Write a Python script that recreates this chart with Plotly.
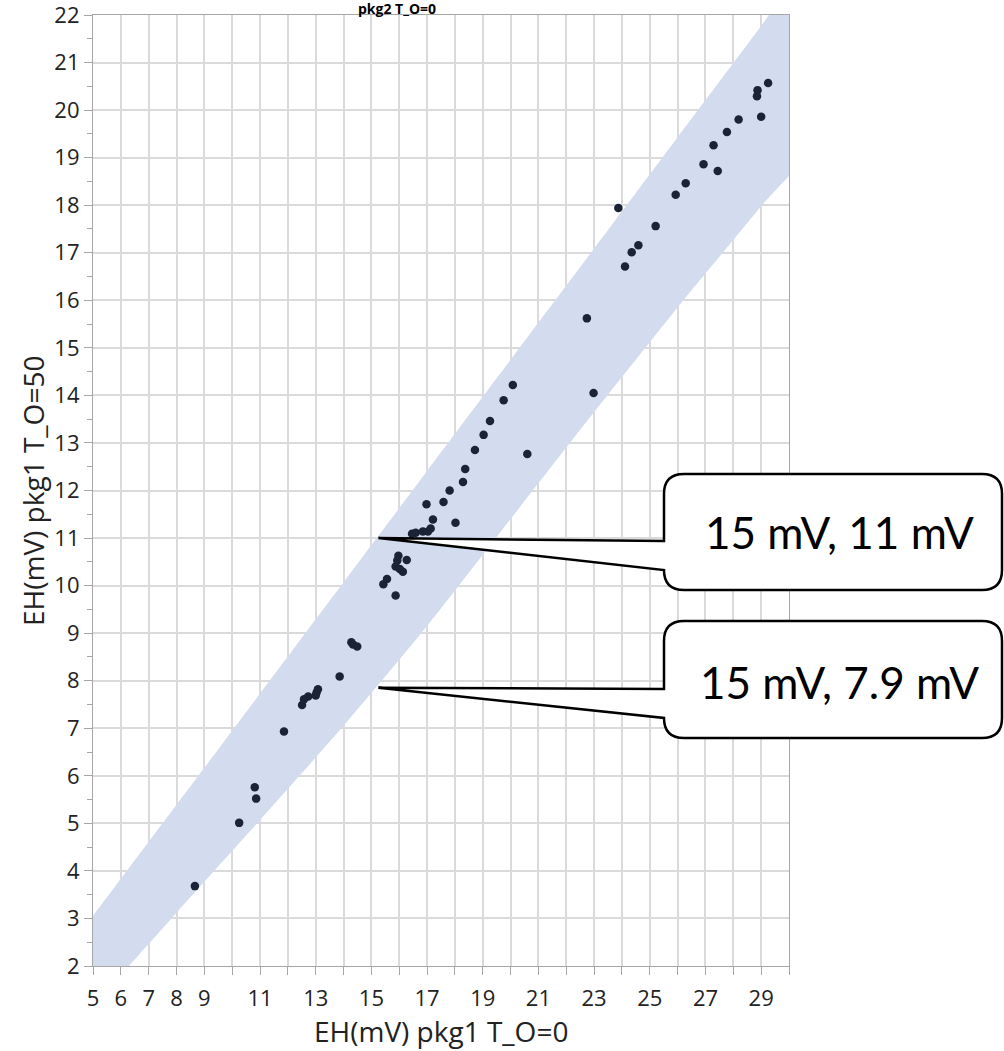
import plotly.graph_objects as go

# ---- data ----
pts_x = [8.66, 10.25, 10.81, 10.86, 11.86, 12.51, 12.58, 12.73, 13.0, 13.03, 13.08, 13.86,
         14.28, 14.34, 14.49, 15.43, 15.56, 15.87, 15.97, 15.93, 15.87, 16.02, 16.13, 16.27,
         16.46, 16.59, 16.85, 17.03, 17.13, 17.21, 16.98, 17.59, 17.81, 18.02, 18.29, 18.37,
         18.72, 19.03, 19.26, 19.75, 20.08, 20.60, 22.74, 22.98, 23.87, 24.11, 24.35, 24.59,
         25.21, 25.93, 26.29, 26.93, 27.29, 27.44, 27.77, 28.19, 28.87, 28.85, 29.0, 29.25]
pts_y = [3.68, 5.01, 5.76, 5.52, 6.93, 7.49, 7.61, 7.67, 7.69, 7.75, 7.82, 8.09,
         8.81, 8.76, 8.72, 10.03, 10.14, 9.79, 10.63, 10.53, 10.40, 10.35, 10.29, 10.54,
         11.09, 11.11, 11.14, 11.14, 11.20, 11.39, 11.71, 11.76, 12.0, 11.32, 12.18, 12.45,
         12.85, 13.17, 13.46, 13.90, 14.22, 12.77, 15.62, 14.05, 17.94, 16.71, 17.01, 17.16,
         17.56, 18.22, 18.46, 18.86, 19.26, 18.72, 19.54, 19.80, 20.42, 20.29, 19.86, 20.57]

band_x = [4, 5, 8, 11, 14, 17, 20, 23, 26, 29, 31]
band_upper = [2.27, 3.05, 5.39, 7.73, 10.07, 12.41, 14.75, 17.09, 19.43, 21.77, 23.33]
band_lower = [0.50, 1.15, 3.12, 5.07, 7.05, 9.15, 11.40, 13.65, 15.85, 17.98, 19.40]

x_tickvals = list(range(5, 31))
x_ticktext = ["5", "6", "7", "8", "9", "", "11", "", "13", "", "15", "", "17", "", "19", "",
              "21", "", "23", "", "25", "", "27", "", "29", ""]
y_tickvals = list(range(2, 23))

callout_texts = ["15 mV, 11 mV", "15 mV, 7.9 mV"]
callout_tips = [(15.25, 11.0), (15.25, 7.85)]

title_text = "pkg2 T_O=0"
x_title = "EH(mV) pkg1 T_O=0"
y_title = "EH(mV) pkg1 T_O=50"

# ---- layout geometry (pixels) ----
W, H = 1004, 1051
L, R, T, B = 93, 789, 15, 966
X0, X1, Y0, Y1 = 5, 30, 2, 22


def px2paper_x(p):
    return (p - L) / (R - L)


def px2paper_y(p):
    return (B - p) / (B - T)


def data2px(x, y):
    return (L + (x - X0) * (R - L) / (X1 - X0), B - (y - Y0) * (B - T) / (Y1 - Y0))


FAM = "Open Sans, Noto Sans, sans-serif"
TICK_FONT = dict(family=FAM, size=22, color="#222222")
GRID = "#dadada"

fig = go.Figure()

# prediction band
fig.add_trace(go.Scatter(
    x=band_x + band_x[::-1],
    y=band_upper + band_lower[::-1],
    fill="toself", mode="lines",
    line=dict(width=0, color="rgba(0,0,0,0)", shape="spline", smoothing=0.6),
    fillcolor="rgb(211,220,239)", hoverinfo="skip", showlegend=False))

fig.add_trace(go.Scatter(
    x=pts_x, y=pts_y, mode="markers",
    marker=dict(size=8.5, color="#1b2436"), showlegend=False))

fig.update_xaxes(range=[X0, X1], tickvals=x_tickvals, ticktext=x_ticktext,
                 showgrid=True, gridcolor=GRID, gridwidth=1.5,
                 showline=True, linecolor="#a6a6a6", linewidth=1.2, mirror=True,
                 ticks="outside", ticklen=8, tickcolor="#a6a6a6", tickwidth=1,
                 tickfont=TICK_FONT, zeroline=False, ticklabelstandoff=4,
                 ticklabeloverflow="allow")
fig.update_yaxes(range=[Y0, Y1], tickvals=y_tickvals,
                 showgrid=True, gridcolor=GRID, gridwidth=1.5,
                 showline=True, linecolor="#a6a6a6", linewidth=1.2, mirror=True,
                 ticks="outside", ticklen=8, tickcolor="#a6a6a6", tickwidth=1,
                 minor=dict(dtick=0.5, ticks="outside", ticklen=5, tickcolor="#a6a6a6",
                            showgrid=False),
                 tickfont=TICK_FONT, zeroline=False, ticklabeloverflow="allow")

annotations = [
    dict(text=x_title, xref="paper", yref="paper", x=0.5, y=px2paper_y(1031),
         xanchor="center", yanchor="middle", showarrow=False,
         font=dict(family=FAM, size=28, color="#222222")),
    dict(text=y_title, xref="paper", yref="paper", x=px2paper_x(33), y=px2paper_y(491),
         xanchor="center", yanchor="middle", textangle=-90, showarrow=False,
         font=dict(family=FAM, size=28, color="#222222")),
    dict(text="<b>" + title_text + "</b>", xref="paper", yref="paper",
         x=px2paper_x(397), y=px2paper_y(8), xanchor="center", yanchor="middle",
         showarrow=False,
         font=dict(family=FAM, size=14, color="#000000")),
]

# callout boxes (pixel geometry)
boxes = [dict(x1=664, x2=1002, top=474, bottom=590, ua=541, cy=532),
         dict(x1=664, x2=1002, top=621, bottom=738, ua=689, cy=682)]
shapes = []
r = 20
for b, (tx, ty), txt in zip(boxes, callout_tips, callout_texts):
    tpx, tpy = data2px(tx, ty)

    def P(px, py):
        return f"{px2paper_x(px):.5f},{px2paper_y(py):.5f}"

    x1, x2, top, bot = b["x1"], b["x2"], b["top"], b["bottom"]
    path = (f"M {P(tpx, tpy)} L {P(x1, b['ua'])} L {P(x1, top + r)} "
            f"Q {P(x1, top)} {P(x1 + r, top)} L {P(x2 - r, top)} "
            f"Q {P(x2, top)} {P(x2, top + r)} L {P(x2, bot - r)} "
            f"Q {P(x2, bot)} {P(x2 - r, bot)} L {P(x1 + r, bot)} "
            f"Q {P(x1, bot)} {P(x1, bot - r)} L {P(tpx, tpy)} Z")
    shapes.append(dict(type="path", path=path, xref="paper", yref="paper",
                       line=dict(color="black", width=2.5), fillcolor="white",
                       layer="above"))
    annotations.append(dict(text=txt, xref="paper", yref="paper",
                            x=px2paper_x(839), y=px2paper_y(b["cy"]),
                            xanchor="center", yanchor="middle", showarrow=False,
                            font=dict(family="Lato, Open Sans, sans-serif", size=44,
                                      color="black")))

fig.update_layout(width=W, height=H,
                  margin=dict(l=L, r=W - R, t=T, b=H - B, autoexpand=False),
                  paper_bgcolor="white", plot_bgcolor="white",
                  annotations=annotations, shapes=shapes, showlegend=False)

fig.write_html("out.html")
